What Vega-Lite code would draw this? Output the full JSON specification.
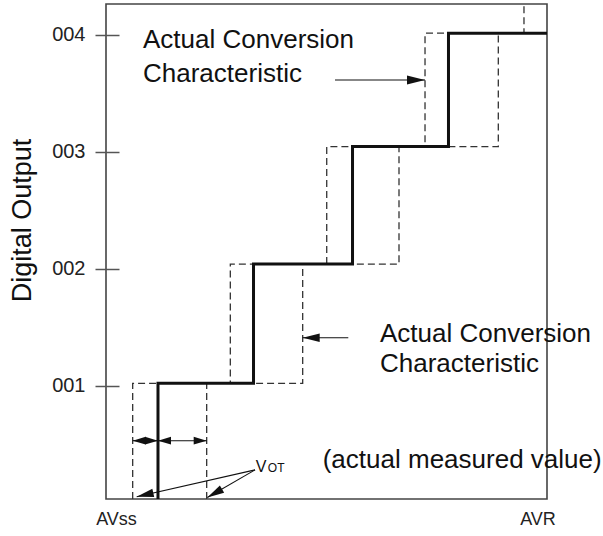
{
  "$schema": "https://vega.github.io/schema/vega-lite/v6.json",
  "width": 441,
  "height": 495,
  "autosize": {"type": "none"},
  "padding": {"left": 106, "top": 4, "right": 56, "bottom": 37},
  "background": "white",
  "config": {
    "view": {"stroke": "#444", "strokeWidth": 1.6},
    "font": "Liberation Sans"
  },
  "datasets": {
    "steps": [
      {"series": "S", "ord": 0, "x": 11.79, "y": 0.031},
      {"series": "S", "ord": 1, "x": 11.79, "y": 1.02},
      {"series": "S", "ord": 2, "x": 33.45, "y": 1.02},
      {"series": "S", "ord": 3, "x": 33.45, "y": 2.04},
      {"series": "S", "ord": 4, "x": 55.9, "y": 2.04},
      {"series": "S", "ord": 5, "x": 55.9, "y": 3.045},
      {"series": "S", "ord": 6, "x": 77.66, "y": 3.045},
      {"series": "S", "ord": 7, "x": 77.66, "y": 4.015},
      {"series": "S", "ord": 8, "x": 100, "y": 4.015},
      {"series": "L", "ord": 0, "x": 6.05, "y": 0.031},
      {"series": "L", "ord": 1, "x": 6.05, "y": 1.02},
      {"series": "L", "ord": 2, "x": 28.19, "y": 1.02},
      {"series": "L", "ord": 3, "x": 28.19, "y": 2.04},
      {"series": "L", "ord": 4, "x": 50.05, "y": 2.04},
      {"series": "L", "ord": 5, "x": 50.05, "y": 3.045},
      {"series": "L", "ord": 6, "x": 72.34, "y": 3.045},
      {"series": "L", "ord": 7, "x": 72.34, "y": 4.015},
      {"series": "L", "ord": 8, "x": 77.66, "y": 4.015},
      {"series": "R", "ord": 0, "x": 22.83, "y": 0.031},
      {"series": "R", "ord": 1, "x": 22.83, "y": 1.02},
      {"series": "R", "ord": 2, "x": 44.6, "y": 1.02},
      {"series": "R", "ord": 3, "x": 44.6, "y": 2.04},
      {"series": "R", "ord": 4, "x": 66.44, "y": 2.04},
      {"series": "R", "ord": 5, "x": 66.44, "y": 3.045},
      {"series": "R", "ord": 6, "x": 88.96, "y": 3.045},
      {"series": "R", "ord": 7, "x": 88.96, "y": 4.015},
      {"series": "R", "ord": 8, "x": 94.78, "y": 4.015},
      {"series": "R", "ord": 9, "x": 94.78, "y": 4.265}
    ],
    "shafts": [
      {"x": 51.93, "y": 3.615, "x2": 72.34, "y2": 3.615},
      {"x": 54.94, "y": 1.41, "x2": 44.6, "y2": 1.41},
      {"x": 6.05, "y": 0.529, "x2": 11.79, "y2": 0.529},
      {"x": 11.79, "y": 0.529, "x2": 22.83, "y2": 0.529},
      {"x": 33.8, "y": 0.279, "x2": 6.96, "y2": 0.05},
      {"x": 33.8, "y": 0.279, "x2": 22.97, "y2": 0.042}
    ],
    "heads": [
      {"head": "right-large", "x": 72.34, "y": 3.615},
      {"head": "left-large", "x": 44.6, "y": 1.41},
      {"head": "right-small", "x": 11.79, "y": 0.529},
      {"head": "right-small", "x": 22.83, "y": 0.529},
      {"head": "left-small", "x": 6.05, "y": 0.529},
      {"head": "left-small", "x": 11.79, "y": 0.529},
      {"head": "vot-a", "x": 6.96, "y": 0.05},
      {"head": "vot-b", "x": 22.97, "y": 0.042}
    ],
    "texts": [
      {"grp": "big", "label": "Actual Conversion", "x": 8.39, "y": 3.886},
      {"grp": "big", "label": "Characteristic", "x": 8.39, "y": 3.6},
      {"grp": "big", "label": "Actual Conversion", "x": 62.13, "y": 1.376},
      {"grp": "big", "label": "Characteristic", "x": 62.13, "y": 1.12},
      {"grp": "big", "label": "(actual measured value)", "x": 49.14, "y": 0.293},
      {"grp": "v", "label": "V", "x": 33.95, "y": 0.264},
      {"grp": "ot", "label": "OT", "x": 36.7, "y": 0.264}
    ]
  },
  "encoding": {
    "x": {
      "field": "x", "type": "quantitative",
      "scale": {"domain": [0, 100], "nice": false, "zero": false},
      "axis": {
        "values": [2.27, 97.85],
        "labelExpr": "datum.value < 50 ? 'AVss' : 'AVR'",
        "ticks": false, "domain": false, "grid": false, "title": null,
        "labelFontSize": 18, "labelColor": "#222", "labelPadding": 11,
        "labelFont": "Liberation Sans"
      }
    },
    "y": {
      "field": "y", "type": "quantitative",
      "scale": {"domain": [0.03, 4.265], "nice": false, "zero": false},
      "axis": {
        "values": [1, 2, 3, 4],
        "labelExpr": "'00' + format(datum.value, 'd')",
        "grid": false, "domain": false,
        "offset": -13, "tickSize": 24, "tickColor": "#555", "tickWidth": 1.5,
        "labelPadding": 10, "labelFontSize": 20, "labelColor": "#222",
        "labelFont": "Liberation Sans",
        "title": "Digital Output", "titleFontSize": 27, "titleFontWeight": "normal",
        "titleColor": "#111", "titleFont": "Liberation Sans",
        "titleX": -89, "titleY": 216, "titleBaseline": "alphabetic"
      }
    }
  },
  "layer": [
    {
      "data": {"name": "steps"},
      "transform": [{"filter": "datum.series != 'S'"}],
      "mark": {"type": "line", "strokeDash": [7, 4], "stroke": "#333", "strokeWidth": 1.3},
      "encoding": {"detail": {"field": "series"}, "order": {"field": "ord"}}
    },
    {
      "data": {"name": "steps"},
      "transform": [{"filter": "datum.series == 'S'"}],
      "mark": {"type": "line", "stroke": "#111", "strokeWidth": 3, "strokeJoin": "miter"},
      "encoding": {"order": {"field": "ord"}}
    },
    {
      "data": {"name": "shafts"},
      "mark": {"type": "rule", "stroke": "#111", "strokeWidth": 1.1},
      "encoding": {"x2": {"field": "x2"}, "y2": {"field": "y2"}}
    },
    {
      "data": {"name": "heads"},
      "transform": [{"filter": "datum.head == 'right-large'"}],
      "mark": {"type": "point", "shape": "M0,0L-1,-0.25L-1,0.25Z", "filled": true, "color": "#111", "opacity": 1, "size": 1296, "angle": 0}
    },
    {
      "data": {"name": "heads"},
      "transform": [{"filter": "datum.head == 'left-large'"}],
      "mark": {"type": "point", "shape": "M0,0L-1,-0.25L-1,0.25Z", "filled": true, "color": "#111", "opacity": 1, "size": 1156, "angle": 180}
    },
    {
      "data": {"name": "heads"},
      "transform": [{"filter": "datum.head == 'right-small'"}],
      "mark": {"type": "point", "shape": "M0,0L-1,-0.3L-1,0.3Z", "filled": true, "color": "#111", "opacity": 1, "size": 676, "angle": 0}
    },
    {
      "data": {"name": "heads"},
      "transform": [{"filter": "datum.head == 'left-small'"}],
      "mark": {"type": "point", "shape": "M0,0L-1,-0.3L-1,0.3Z", "filled": true, "color": "#111", "opacity": 1, "size": 676, "angle": 180}
    },
    {
      "data": {"name": "heads"},
      "transform": [{"filter": "datum.head == 'vot-a'"}],
      "mark": {"type": "point", "shape": "M0,0L-1,-0.25L-1,0.25Z", "filled": true, "color": "#111", "opacity": 1, "size": 1156, "angle": 167.3}
    },
    {
      "data": {"name": "heads"},
      "transform": [{"filter": "datum.head == 'vot-b'"}],
      "mark": {"type": "point", "shape": "M0,0L-1,-0.25L-1,0.25Z", "filled": true, "color": "#111", "opacity": 1, "size": 1156, "angle": 150}
    },
    {
      "data": {"name": "texts"},
      "transform": [{"filter": "datum.grp == 'big'"}],
      "mark": {"type": "text", "align": "left", "baseline": "alphabetic", "fontSize": 26, "font": "Liberation Sans", "color": "#111"},
      "encoding": {"text": {"field": "label"}}
    },
    {
      "data": {"name": "texts"},
      "transform": [{"filter": "datum.grp == 'v'"}],
      "mark": {"type": "text", "align": "left", "baseline": "alphabetic", "fontSize": 16, "font": "Liberation Sans", "color": "#111"},
      "encoding": {"text": {"field": "label"}}
    },
    {
      "data": {"name": "texts"},
      "transform": [{"filter": "datum.grp == 'ot'"}],
      "mark": {"type": "text", "align": "left", "baseline": "alphabetic", "fontSize": 12, "font": "Liberation Sans", "color": "#111"},
      "encoding": {"text": {"field": "label"}}
    }
  ]
}
